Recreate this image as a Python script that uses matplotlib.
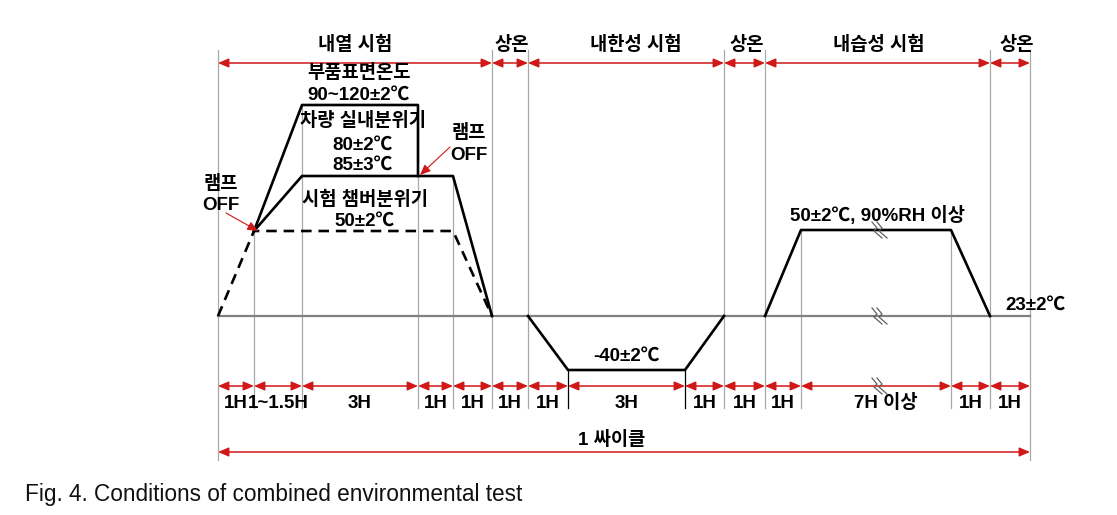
"""
Combined environmental test profile (Fig. 4).
Schematic drawn in picture units: x = schedule position, y = temperature level.
"""
import matplotlib
matplotlib.use('Agg')
import matplotlib.pyplot as plt

# schedule boundaries (vertical lines), left to right
BOUNDS = [218, 254, 302, 418, 453, 492, 528, 568, 685, 724, 765, 801, 951, 990, 1030]
SEG_LABELS = ['1H', '1~1.5H', '3H', '1H', '1H', '1H', '1H', '3H',
              '1H', '1H', '1H', '7H 이상', '1H', '1H']
PHASES = ['내열 시험', '상온', '내한성 시험', '상온', '내습성 시험', '상온']
PHASE_EDGES = [0, 5, 6, 9, 10, 13, 14]          # indices into BOUNDS
PHASE_X = [355, 512, 636, 747, 879, 1017]         # label centres

# temperature levels
Y_BASE, Y_CHAMBER, Y_CABIN, Y_PART = 316, 231, 176, 105
Y_COLD, Y_HUMID = 370, 230

# profiles: (boundary index, level)
CHAMBER = [(0, Y_BASE), (1, Y_CHAMBER), (4, Y_CHAMBER), (5, Y_BASE)]
PART = [(1, Y_CHAMBER), (2, Y_PART), (3, Y_PART), (3, Y_CABIN)]
CABIN = [(1, Y_CHAMBER), (2, Y_CABIN), (4, Y_CABIN), (5, Y_BASE)]
COLD = [(6, Y_BASE), (7, Y_COLD), (8, Y_COLD), (9, Y_BASE)]
HUMID = [(10, Y_BASE), (11, Y_HUMID), (12, Y_HUMID), (13, Y_BASE)]

# where interior vertical lines start (boundary index: top level)
INNER_TOP = {1: Y_CHAMBER, 2: Y_PART, 3: Y_CABIN, 4: Y_CABIN,
             7: Y_COLD, 8: Y_COLD, 11: Y_HUMID, 12: Y_HUMID}

KR = ['Liberation Sans', 'Noto Sans CJK KR', 'DejaVu Sans']
RED = '#d01818'
GRAY = '#a8a8a8'

fig = plt.figure(figsize=(11.17, 5.15), dpi=100)
ax = fig.add_axes([0, 0, 1, 1])
ax.set_xlim(0, 1117)
ax.set_ylim(515, 0)
ax.axis('off')


def txt(x, y, s, **kw):
    ax.text(x, y, s, ha='center', va='center', family=KR, fontsize=13.5,
            fontweight='bold', color='black', **kw)


def darrow(x0, x1, y):
    ax.annotate('', xy=(x1, y), xytext=(x0, y),
                arrowprops=dict(arrowstyle='<|-|>,head_length=0.7,head_width=0.3',
                                mutation_scale=9, color=RED, lw=1.1,
                                shrinkA=0, shrinkB=0))


def profile(pts, **kw):
    xs = [BOUNDS[i] for i, _ in pts]
    ys = [lv for _, lv in pts]
    ax.plot(xs, ys, **kw)


# vertical guide lines
for i, xb in enumerate(BOUNDS):
    if i in PHASE_EDGES:
        bottom = 460 if i in (0, len(BOUNDS) - 1) else 408
        ax.plot([xb, xb], [50, bottom], color=GRAY, lw=0.9, zorder=1)
    else:
        col = 'black' if i in (7, 8) else GRAY
        ax.plot([xb, xb], [INNER_TOP[i], 408], color=col, lw=0.9, zorder=1)

# baseline
ax.plot([BOUNDS[0], BOUNDS[-1]], [Y_BASE, Y_BASE], color='#808080', lw=1.6, zorder=2)

# profiles
profile(CHAMBER, color='black', lw=1.9, ls=(0, (4, 2.6)), zorder=3)
for prof in (PART, CABIN, COLD, HUMID):
    profile(prof, color='black', lw=1.9, zorder=3)

# phase arrows and labels
for k, name in enumerate(PHASES):
    x0, x1 = BOUNDS[PHASE_EDGES[k]], BOUNDS[PHASE_EDGES[k + 1]]
    darrow(x0, x1, 63)
    txt(PHASE_X[k], 45, name)

# segment arrows and labels
for k, lab in enumerate(SEG_LABELS):
    x0, x1 = BOUNDS[k], BOUNDS[k + 1]
    darrow(x0, x1, 386)
    xc = (x0 + x1) / 2 + (10 if lab == '7H 이상' else 0)
    txt(xc, 403, lab)

darrow(BOUNDS[0], BOUNDS[-1], 452)
txt(612, 440, '1 싸이클')

# annotations inside the heat test block
txt(359, 73, '부품표면온도')
txt(359, 95, '90~120±2℃')
txt(363, 121, '차량 실내분위기')
txt(363, 145, '80±2℃')
txt(363, 165, '85±3℃')
txt(365, 200, '시험 챔버분위기')
txt(365, 221, '50±2℃')

txt(221, 184, '램프')
txt(221, 205, 'OFF')
txt(469, 133, '램프')
txt(469, 156, 'OFF')
for tail, head in [((226, 213), (258, 231)), ((450, 147), (420, 175))]:
    ax.annotate('', xy=head, xytext=tail,
                arrowprops=dict(arrowstyle='-|>,head_length=0.7,head_width=0.3',
                                mutation_scale=9, color=RED, lw=0.8,
                                shrinkA=0, shrinkB=0))

txt(626, 356, '-40±2℃')
txt(877, 216, '50±2℃, 90%RH 이상')
txt(1035, 305, '23±2℃')

# break marks on the long humidity segment
for yb in (Y_HUMID, Y_BASE, 386):
    for dx in (0, 5):
        xs = [872 + dx, 877 + dx, 874 + dx, 882 + dx]
        ys = [yb - 8, yb - 2, yb + 1, yb + 8]
        ax.plot(xs, ys, color='#606060', lw=0.9, zorder=4)

# caption
ax.text(25, 501, 'Fig. 4. Conditions of combined environmental test',
        family=['Liberation Sans', 'DejaVu Sans'], fontsize=16.3,
        ha='left', va='baseline', color='#111111')

fig.savefig('out.png', dpi=100)
plt.close(fig)
